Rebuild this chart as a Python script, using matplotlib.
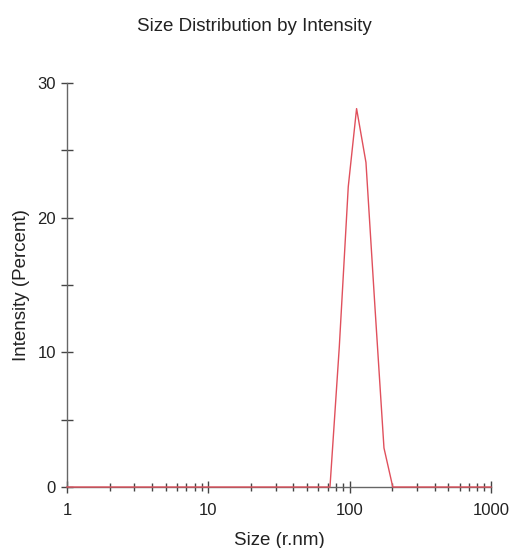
import numpy as np
import matplotlib.pyplot as plt
from matplotlib.ticker import LogLocator, NullFormatter, FixedLocator

plt.rcParams['font.family'] = ['Liberation Sans', 'DejaVu Sans']

# size bins (r.nm) and intensity (%)
size = [1, 72.6, 84.5, 97.8, 112, 130.5, 151, 175, 202, 1000]
intensity = [0, 0, 10.4, 22.3, 28.1, 24.1, 13.4, 2.9, 0, 0]

fig = plt.figure(figsize=(5.13, 5.48), dpi=100)
ax = fig.add_axes([0.1306, 0.1113, 0.8264, 0.7372])

ax.plot(size, intensity, color='#e0505c', linewidth=1.0, zorder=3, clip_on=False)

ax.set_xscale('log')
ax.set_xlim(1, 1000)
ax.set_ylim(0, 30)

ax.xaxis.set_major_locator(FixedLocator([1, 10, 100, 1000]))
ax.xaxis.set_minor_locator(LogLocator(base=10, subs=np.arange(2, 10)))
ax.xaxis.set_minor_formatter(NullFormatter())
ax.set_xticklabels(['1', '10', '100', '1000'])
ax.set_yticks([0, 5, 10, 15, 20, 25, 30])
ax.set_yticklabels(['0', '', '10', '', '20', '', '30'])

for s in ['top', 'right']:
    ax.spines[s].set_visible(False)
for s in ['left', 'bottom']:
    ax.spines[s].set_color('#666666')
    ax.spines[s].set_linewidth(1.0)

ax.tick_params(which='major', direction='inout', length=8, width=1,
               color='#444444', labelsize=12, labelcolor='#222222')
ax.tick_params(which='minor', direction='inout', length=6, width=1,
               color='#444444')
ax.tick_params(axis='x', which='major', pad=7.5)
ax.tick_params(axis='y', which='major', pad=4)

ax.set_xlabel('Size (r.nm)', fontsize=13.5, color='#222222', labelpad=10)
ax.set_ylabel('Intensity (Percent)', fontsize=13.5, color='#222222', labelpad=5)
fig.text(0.496, 0.951, 'Size Distribution by Intensity', ha='center', va='center',
         fontsize=13.5, color='#222222')

fig.savefig('out.png', dpi=100)
